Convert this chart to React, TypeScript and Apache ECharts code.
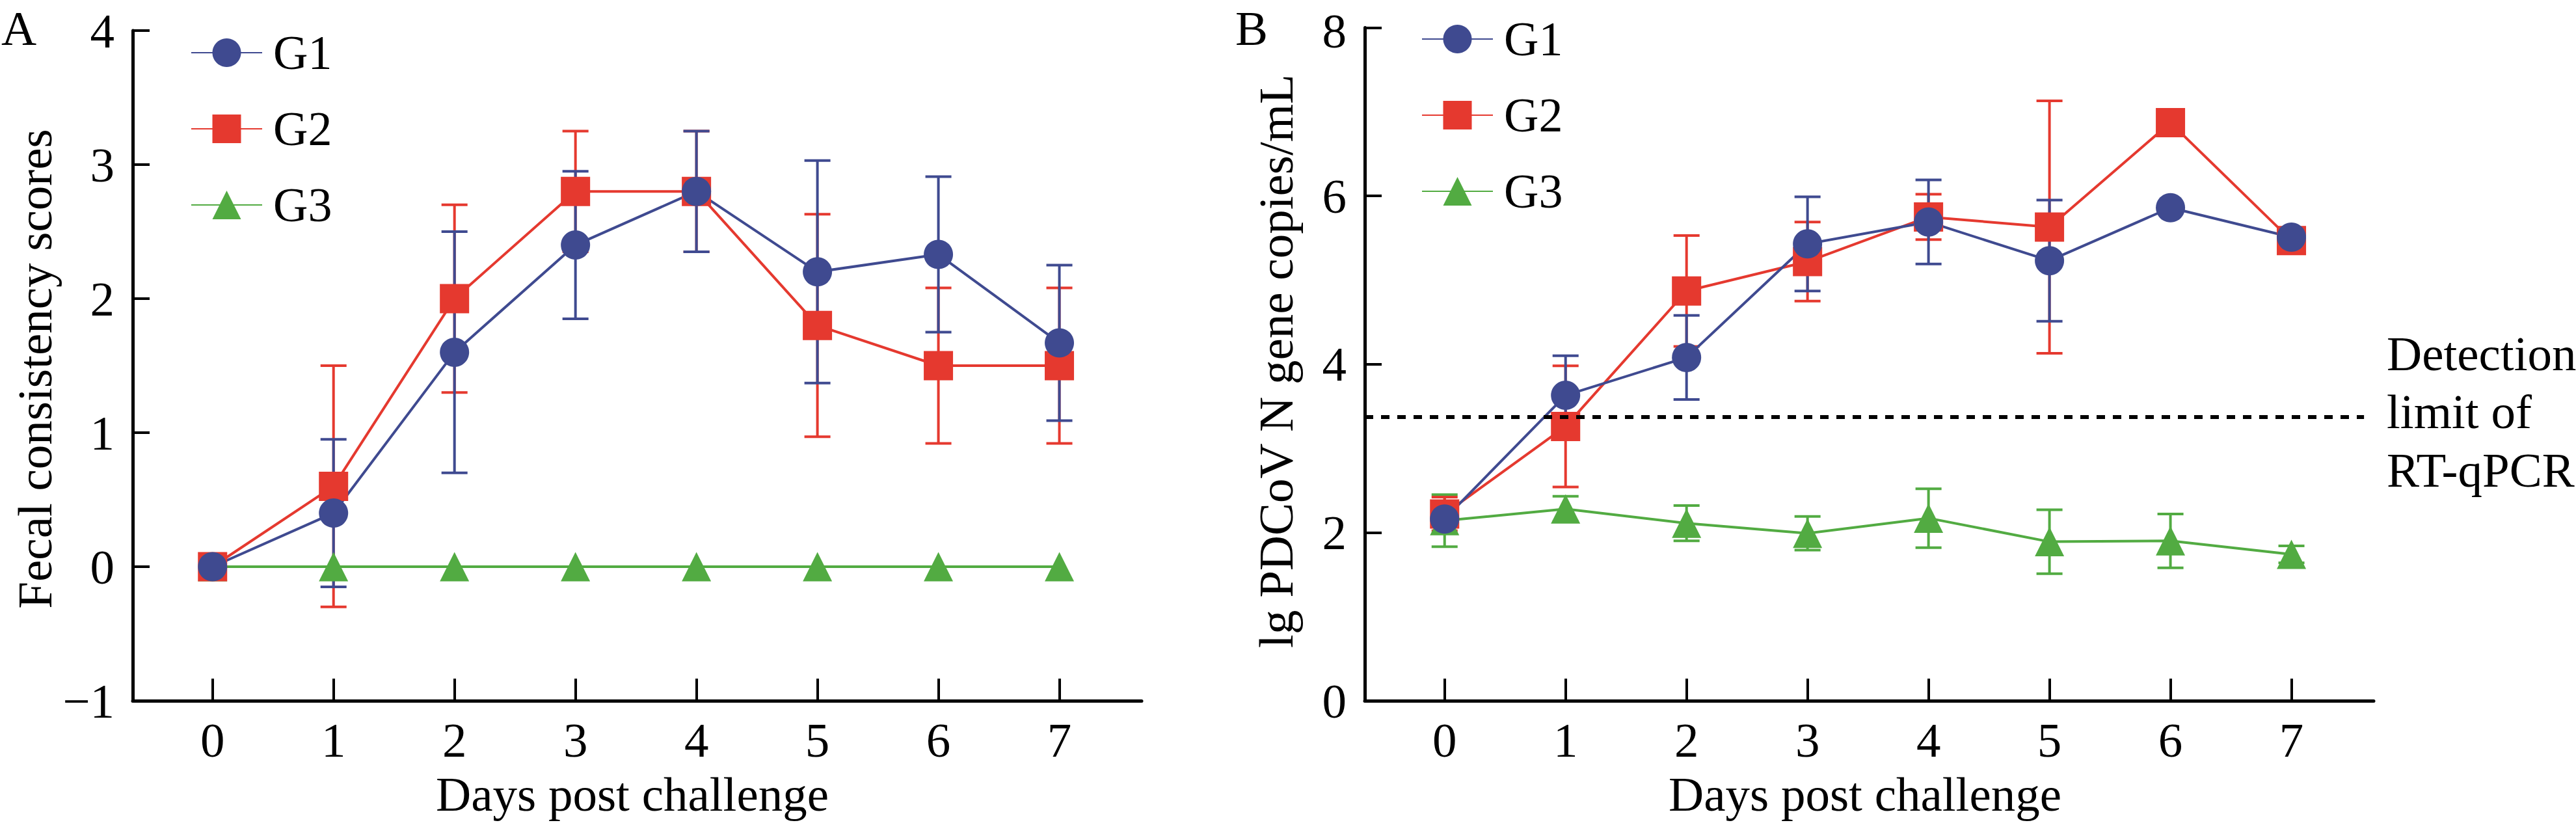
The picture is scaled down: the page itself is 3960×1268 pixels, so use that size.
import React, { useEffect, useRef } from 'react';
import * as echarts from 'echarts';

const FONT = '"Liberation Serif", "Times New Roman", serif';

const days = [0, 1, 2, 3, 4, 5, 6, 7];
const groupNames = ['G1', 'G2', 'G3'];
const groupColors = ['#3F4A90', '#E5392F', '#52AB42'];
const groupSymbols = ['circle', 'rect', 'triangle'];

// Panel A: fecal consistency scores (mean, SD)
const scoreG1 = [0, 0.4, 1.6, 2.4, 2.8, 2.2, 2.33, 1.67];
const scoreG1Err = [0, 0.55, 0.9, 0.55, 0.45, 0.83, 0.58, 0.58];
const scoreG2 = [0, 0.6, 2.0, 2.8, 2.8, 1.8, 1.5, 1.5];
const scoreG2Err = [0, 0.9, 0.7, 0.45, 0.45, 0.83, 0.58, 0.58];
const scoreG3 = [0, 0, 0, 0, 0, 0, 0, 0];
const scoreG3Err = [0, 0, 0, 0, 0, 0, 0, 0];

// Panel B: lg PDCoV N gene copies/mL (mean, SD)
const copiesG1 = [2.16, 3.63, 4.08, 5.43, 5.69, 5.23, 5.86, 5.51];
const copiesG1Err = [0, 0.47, 0.5, 0.56, 0.5, 0.72, 0, 0];
const copiesG2 = [2.22, 3.26, 4.87, 5.22, 5.75, 5.63, 6.87, 5.47];
const copiesG2Err = [0.2, 0.72, 0.66, 0.47, 0.27, 1.5, 0, 0];
const copiesG3 = [2.14, 2.28, 2.11, 1.99, 2.17, 1.89, 1.9, 1.74];
const copiesG3Err = [0.31, 0.15, 0.21, 0.2, 0.35, 0.38, 0.32, 0.1];

const detectionLimit = 3.37;

const scoreTicks = { min: -1, max: 4, interval: 1 };
const copiesTicks = { min: 0, max: 8, interval: 2 };

function lineSeries(name: string, idx: number, values: number[], axis: number, extra: any = {}) {
  return {
    type: 'line',
    name,
    xAxisIndex: axis,
    yAxisIndex: axis,
    data: days.map((d, i) => [d, values[i]]),
    symbol: groupSymbols[idx],
    symbolSize: 45,
    showSymbol: true,
    lineStyle: { color: groupColors[idx], width: 4 },
    itemStyle: { color: groupColors[idx] },
    emphasis: { disabled: true },
    ...extra,
  };
}

function errSeries(name: string, idx: number, values: number[], errs: number[], axis: number) {
  const data = days
    .map((d, i) => [d, values[i] - errs[i], values[i] + errs[i], errs[i]])
    .filter((r) => r[3] > 0);
  const color = groupColors[idx];
  return {
    type: 'custom',
    name: name + ' SD',
    xAxisIndex: axis,
    yAxisIndex: axis,
    data,
    encode: { x: 0, y: [1, 2] },
    silent: true,
    renderItem: (params: any, api: any) => {
      const x = api.value(0);
      const lo = api.coord([x, api.value(1)]);
      const hi = api.coord([x, api.value(2)]);
      const hw = 20;
      const style = { stroke: color, lineWidth: 4 };
      return {
        type: 'group',
        children: [
          { type: 'line', shape: { x1: lo[0], y1: lo[1], x2: hi[0], y2: hi[1] }, style },
          { type: 'line', shape: { x1: hi[0] - hw, y1: hi[1], x2: hi[0] + hw, y2: hi[1] }, style },
          { type: 'line', shape: { x1: lo[0] - hw, y1: lo[1], x2: lo[0] + hw, y2: lo[1] }, style },
        ],
      };
    },
  };
}

function xAxisDef(gridIndex: number) {
  return {
    type: 'value',
    gridIndex,
    min: -0.66,
    max: 7.68,
    axisLine: { show: true, onZero: false, lineStyle: { color: '#000', width: 5 } },
    axisTick: { show: true, inside: true, length: 34, customValues: days, lineStyle: { color: '#000', width: 4 } },
    axisLabel: { customValues: days, margin: 30, fontSize: 75, lineHeight: 60, fontFamily: FONT, color: '#000' },
    splitLine: { show: false },
  };
}

function yAxisDef(gridIndex: number, t: { min: number; max: number; interval: number }) {
  return {
    type: 'value',
    gridIndex,
    min: t.min,
    max: t.max,
    interval: t.interval,
    axisLine: { show: true, onZero: false, lineStyle: { color: '#000', width: 5 } },
    axisTick: { show: true, inside: true, length: 26, lineStyle: { color: '#000', width: 4 } },
    axisLabel: {
      margin: 28,
      fontSize: 75,
      lineHeight: 60,
      fontFamily: FONT,
      color: '#000',
      formatter: (v: number) => (v === t.max && t.max === 8 ? '{top|8}' : String(v).replace('-', '\u2212')),
      rich: {
        top: { fontSize: 75, lineHeight: 60, fontFamily: FONT, color: '#000', padding: [10, 0, 0, 0] },
      },
    },
    splitLine: { show: false },
  };
}

function legendDef(left: number, top: number) {
  return {
    data: groupNames,
    orient: 'vertical',
    left,
    top,
    itemWidth: 109,
    itemHeight: 55,
    itemGap: 43,
    selectedMode: false,
    textStyle: { fontSize: 74, lineHeight: 55, fontFamily: FONT, color: '#000', padding: [0, 0, 0, 12] },
  };
}

function txt(text: string, x: number, y: number, align: string, rotation = 0) {
  return {
    type: 'text',
    x,
    y,
    rotation,
    silent: true,
    style: {
      text,
      font: `75px ${FONT}`,
      fontSize: 75,
      fontFamily: FONT,
      lineHeight: 60,
      fill: '#000',
      align,
      verticalAlign: 'middle',
      textAlign: align,
      textVerticalAlign: 'middle',
    },
  };
}

export default function App() {
  const ref = useRef<HTMLDivElement>(null);

  useEffect(() => {
    const chart = echarts.init(ref.current!, null, { renderer: 'svg' });
    const option: any = {
      animation: false,
      backgroundColor: '#fff',
      grid: [
        { left: 204, top: 47, width: 1551, height: 1030 },
        { left: 2098, top: 38, width: 1551, height: 1039 },
      ],
      xAxis: [xAxisDef(0), xAxisDef(1)],
      yAxis: [yAxisDef(0, scoreTicks), yAxisDef(1, copiesTicks)],
      legend: [legendDef(288, 39), legendDef(2180, 18)],
      graphic: [
        txt('A', 2, 43, 'left'),
        txt('B', 1899, 43, 'left'),
        txt('Fecal consistency scores', 53, 567, 'center', Math.PI / 2),
        txt('lg PDCoV N gene copies/mL', 1961, 555, 'center', Math.PI / 2),
        txt('Days post challenge', 972, 1220, 'center'),
        txt('Days post challenge', 2867, 1220, 'center'),
        txt('Detection', 3669, 543, 'left'),
        txt('limit of', 3669, 632, 'left'),
        txt('RT-qPCR', 3669, 722, 'left'),
      ],
      series: [
        lineSeries('G3', 2, scoreG3, 0),
        errSeries('G3', 2, scoreG3, scoreG3Err, 0),
        lineSeries('G2', 1, scoreG2, 0),
        errSeries('G2', 1, scoreG2, scoreG2Err, 0),
        lineSeries('G1', 0, scoreG1, 0),
        errSeries('G1', 0, scoreG1, scoreG1Err, 0),

        lineSeries('G3', 2, copiesG3, 1, {
          markLine: {
            silent: true,
            symbol: ['none', 'none'],
            label: { show: false },
            emphasis: { disabled: true },
            lineStyle: { type: [13, 12], color: '#000', width: 6 },
            data: [[{ coord: [-0.66, detectionLimit] }, { coord: [7.6, detectionLimit] }]],
          },
        }),
        errSeries('G3', 2, copiesG3, copiesG3Err, 1),
        lineSeries('G2', 1, copiesG2, 1),
        errSeries('G2', 1, copiesG2, copiesG2Err, 1),
        lineSeries('G1', 0, copiesG1, 1),
        errSeries('G1', 0, copiesG1, copiesG1Err, 1),
      ],
    };
    chart.setOption(option);
    return () => chart.dispose();
  }, []);

  return (
    <div
      ref={ref}
      style={{ position: 'fixed', left: 0, top: 0, width: 3960, height: 1268, background: '#fff' }}
    />
  );
}
